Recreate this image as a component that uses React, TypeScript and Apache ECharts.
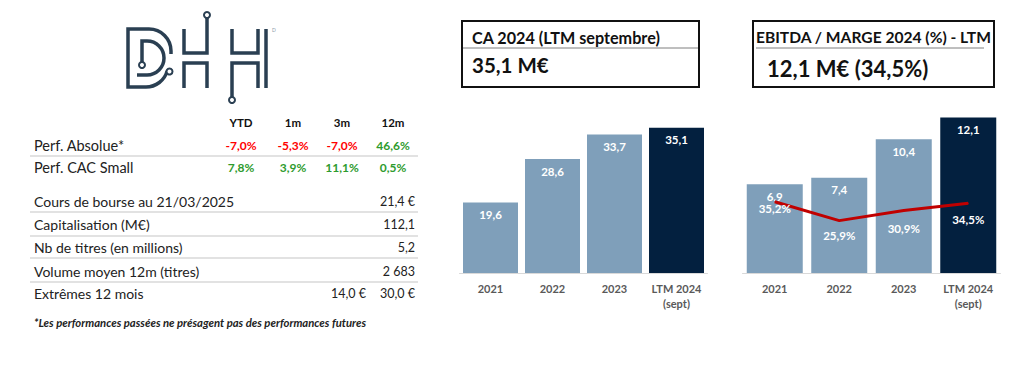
import React, { useEffect, useRef } from "react";
import * as echarts from "echarts";

// ---------- data ----------
const categories = ["2021", "2022", "2023", "LTM 2024\n(sept)"];
const caValues = [19.6, 28.6, 33.7, 35.1];
const ebitdaValues = [6.9, 7.4, 10.4, 12.1];
const marginValues = [35.2, 25.9, 30.9, 34.5];

const perfHeaders = ["YTD", "1m", "3m", "12m"];
const perfRowLabels = ["Perf. Absolue*", "Perf. CAC Small"];
const perfAbsolue = [-7.0, -5.3, -7.0, 46.6];
const perfCacSmall = [7.8, 3.9, 11.1, 0.5];

const infoLabels = [
  "Cours de bourse au 21/03/2025",
  "Capitalisation (M€)",
  "Nb de titres (en millions)",
  "Volume moyen 12m (titres)",
  "Extrêmes 12 mois",
];
const infoValues = ["21,4 €", "112,1", "5,2", "2 683", "30,0 €"];
const infoLowValue = "14,0 €";

const caTitle = "CA 2024 (LTM septembre)";
const caHeadline = "35,1 M€";
const ebitdaTitle = "EBITDA / MARGE 2024 (%) - LTM";
const ebitdaHeadline = "12,1 M€ (34,5%)";
const footnote = "*Les performances passées ne présagent pas des performances futures";

// ---------- styles ----------
const FONT = "Lato, 'Open Sans', sans-serif";
const LIGHT = "#7F9FBA";
const DARK = "#03203F";
const RED = "#FF0000";
const GREEN = "#2E9B2E";
const TEXT = "#222222";
const SEP = "#D9D9D9";
const LOGO = "#2A3F52";
const marginLabelDistance = [0, 8, 11, 10];

const fmt = (v: number) => v.toFixed(1).replace(".", ",");
const pct = (v: number) => fmt(v) + "%";

function txt(x: number, y: number, text: string, o: any = {}) {
  return {
    type: "text",
    x,
    y,
    silent: true,
    style: {
      text,
      fill: o.fill || TEXT,
      fontSize: o.fontSize || 14,
      fontWeight: o.fontWeight || "normal",
      fontStyle: o.fontStyle || "normal",
      fontFamily: FONT,
      align: o.align || "left",
      textAlign: o.align || "left",
      verticalAlign: "middle",
      textVerticalAlign: "middle",
    },
  };
}

function hline(x1: number, x2: number, y: number, stroke = SEP, lw = 1) {
  return {
    type: "line",
    silent: true,
    shape: { x1, y1: y, x2, y2: y },
    style: { stroke, lineWidth: lw },
  };
}

function poly(points: number[][]) {
  return {
    type: "polyline",
    silent: true,
    shape: { points },
    style: { stroke: LOGO, lineWidth: 3.5, fill: null, lineJoin: "miter" },
  };
}
function arc(cx: number, cy: number, r: number, s: number, e: number, clockwise = true) {
  return {
    type: "arc",
    silent: true,
    shape: { cx, cy, r, startAngle: s, endAngle: e, clockwise },
    style: { stroke: LOGO, lineWidth: 3.5, fill: null },
  };
}
function dot(cx: number, cy: number) {
  return {
    type: "circle",
    silent: true,
    shape: { cx, cy, r: 3 },
    style: { stroke: LOGO, lineWidth: 2, fill: "#fff" },
    z: 10,
  };
}

function buildGraphics() {
  const g: any[] = [];
  // logo
  g.push(poly([[149, 29], [128, 29], [128, 87], [146, 87]]));
  g.push(arc(149, 51, 22, -Math.PI / 2, 0));
  g.push(poly([[171, 51], [171, 54]]));
  g.push(arc(146, 65, 22, Math.PI / 2, 0.27, false));
  g.push(dot(169.5, 71.5));
  g.push(poly([[142, 62], [142, 41], [147, 41]]));
  g.push(arc(147, 58, 17, -Math.PI / 2, Math.PI / 2));
  g.push(poly([[147, 75], [137, 75]]));
  g.push(dot(142, 65));
  // H1
  g.push(poly([[184, 29], [184, 53], [207, 53], [207, 18]]));
  g.push(dot(207, 15));
  g.push(poly([[184, 88], [184, 63], [207, 63], [207, 88]]));
  // H2
  g.push(poly([[232, 29], [232, 53], [258, 53], [258, 29]]));
  g.push(poly([[258, 88], [258, 63], [232, 63], [232, 97]]));
  g.push(dot(232, 100));
  // I
  g.push(poly([[266, 29], [266, 88]]));
  g.push(txt(272, 30, "D", { fontSize: 5, fill: "#8a9aa8" }));

  // performance table
  const colX = [241, 293, 342, 393];
  perfHeaders.forEach((h, i) =>
    g.push(txt(colX[i], 122, h, { fontSize: 11.5, fontWeight: "bold", align: "center", fill: "#111" }))
  );
  const perfRows = [perfAbsolue, perfCacSmall];
  const perfY = [145, 167];
  perfRows.forEach((row, r) => {
    g.push(txt(34, perfY[r], perfRowLabels[r], { fontSize: 14.5 }));
    row.forEach((v, i) =>
      g.push(
        txt(colX[i], perfY[r], pct(v), {
          fontSize: 12,
          fontWeight: "bold",
          align: "center",
          fill: v < 0 ? RED : GREEN,
        })
      )
    );
  });
  g.push(hline(30, 418, 156, SEP, 1.5));

  // info table
  const infoY = [201, 224, 247, 271, 293];
  infoLabels.forEach((l, i) => {
    g.push(txt(34, infoY[i], l, { fontSize: 14 }));
    g.push(txt(415, infoY[i], infoValues[i], { fontSize: 12.5, align: "right" }));
  });
  g.push(txt(366, infoY[4], infoLowValue, { fontSize: 12.5, align: "right" }));
  [212, 236, 258, 282].forEach((y) => g.push(hline(30, 418, y, SEP, 1.5)));
  g.push(txt(34, 322, footnote, { fontSize: 11.3, fontWeight: "bold", fontStyle: "italic" }));

  // title boxes
  g.push({
    type: "rect",
    silent: true,
    shape: { x: 462, y: 21, width: 237, height: 66 },
    style: { stroke: "#111", lineWidth: 2, fill: "#fff" },
  });
  g.push(hline(463, 698, 48, "#7F7F7F", 1));
  g.push(txt(472, 37, caTitle, { fontSize: 16.2, fontWeight: "bold", fill: "#111" }));
  g.push(txt(472, 65, caHeadline, { fontSize: 20.5, fontWeight: "bold", fill: "#111" }));

  g.push({
    type: "rect",
    silent: true,
    shape: { x: 753, y: 21, width: 241, height: 66 },
    style: { stroke: "#111", lineWidth: 2, fill: "#fff" },
  });
  g.push(hline(756, 984, 48, "#7F7F7F", 1));
  g.push(txt(756, 37, ebitdaTitle, { fontSize: 15.6, fontWeight: "bold", fill: "#111" }));
  g.push(txt(767, 68, ebitdaHeadline, { fontSize: 22, fontWeight: "bold", fill: "#111" }));
  return g;
}

const barColor = (p: any) => (p.dataIndex === categories.length - 1 ? DARK : LIGHT);

const xAxisCommon = {
  type: "category",
  data: categories,
  axisTick: { show: false },
  axisLine: { lineStyle: { color: SEP, width: 1 } },
  axisLabel: {
    color: "#595959",
    fontWeight: "bold",
    fontSize: 11,
    fontFamily: FONT,
    margin: 8,
    lineHeight: 15,
    interval: 0,
  },
};

const barLabel = {
  show: true,
  position: "insideTop",
  distance: 6,
  color: "#fff",
  fontWeight: "bold",
  fontSize: 11.5,
  fontFamily: FONT,
  formatter: (p: any) => fmt(p.value),
};

export default function App() {
  const ref = useRef<HTMLDivElement>(null);
  useEffect(() => {
    if (!ref.current) return;
    const chart = echarts.init(ref.current, null, { renderer: "svg" });
    chart.setOption({
      animation: false,
      backgroundColor: "#fff",
      grid: [
        { left: 459.5, top: 104, width: 248, height: 169 },
        { left: 742.5, top: 93, width: 258, height: 180 },
      ],
      xAxis: [
        { ...xAxisCommon, gridIndex: 0 },
        { ...xAxisCommon, gridIndex: 1 },
      ],
      yAxis: [
        { type: "value", gridIndex: 0, min: 5, max: 40, show: false, splitLine: { show: false } },
        { type: "value", gridIndex: 1, min: 0, max: 14, show: false, splitLine: { show: false } },
        { type: "value", gridIndex: 1, min: 0, max: 89, show: false, splitLine: { show: false } },
      ],
      series: [
        {
          type: "bar",
          xAxisIndex: 0,
          yAxisIndex: 0,
          data: caValues,
          barWidth: 55,
          itemStyle: { color: barColor },
          label: barLabel,
        },
        {
          type: "bar",
          xAxisIndex: 1,
          yAxisIndex: 1,
          data: ebitdaValues,
          barWidth: 56,
          itemStyle: { color: barColor },
          label: barLabel,
        },
        {
          type: "line",
          xAxisIndex: 1,
          yAxisIndex: 2,
          z: 5,
          symbol: "circle",
          symbolSize: 1,
          showSymbol: true,
          lineStyle: { color: "#C00000", width: 3 },
          itemStyle: { color: "#C00000" },
          data: marginValues.map((v, i) => ({
            value: v,
            label: { distance: marginLabelDistance[i] },
          })),
          label: {
            show: true,
            position: "bottom",
            color: "#fff",
            fontWeight: "bold",
            fontSize: 11.5,
            fontFamily: FONT,
            formatter: (p: any) => pct(p.value),
          },
        },
      ],
      graphic: buildGraphics(),
    });
    return () => chart.dispose();
  }, []);
  return (
    <div
      ref={ref}
      style={{ position: "fixed", left: 0, top: 0, width: 1024, height: 366, background: "#fff" }}
    />
  );
}
